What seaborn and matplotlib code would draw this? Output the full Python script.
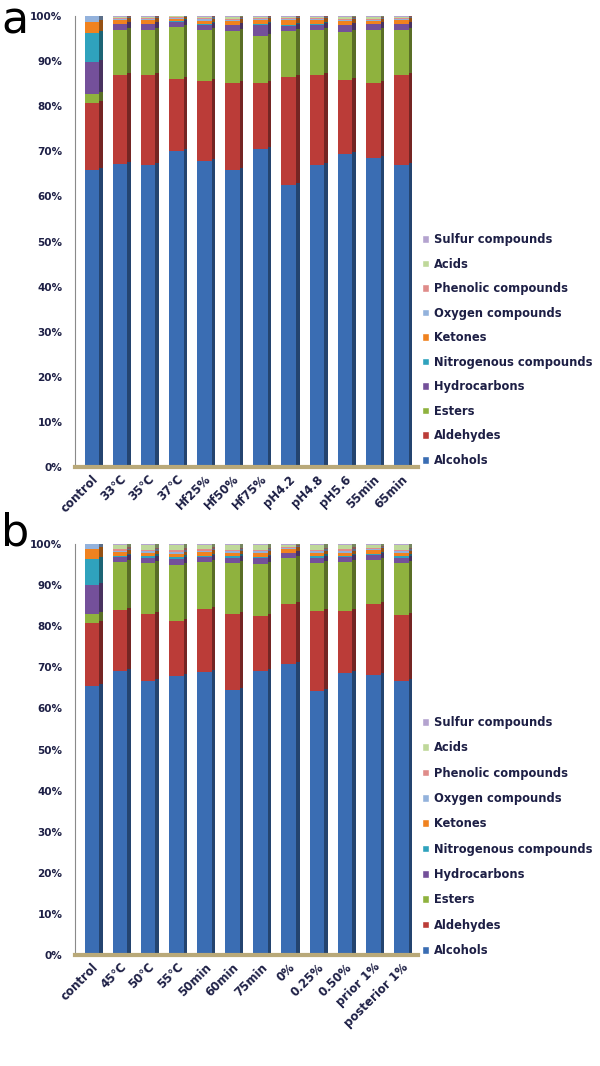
import numpy as np
import pandas as pd
import seaborn as sns
from matplotlib import pyplot as plt
from matplotlib.patches import Patch
import matplotlib.transforms as mtransforms
from matplotlib.colors import to_rgb

# categories (bottom -> top of each stack)
compounds = ['Alcohols', 'Aldehydes', 'Esters', 'Hydrocarbons', 'Nitrogenous compounds',
             'Ketones', 'Oxygen compounds', 'Phenolic compounds', 'Acids', 'Sulfur compounds']
colors = ['#3a6db3', '#bb3c38', '#8fb23e', '#74509a', '#2fa2bd',
          '#f0821f', '#93b2dc', '#df8c8a', '#bfd89a', '#b4a3cf']

# panel a
samples_a = ['control', '33℃', '35℃', '37℃', 'Hf25%', 'Hf50%', 'Hf75%',
             'pH4.2', 'pH4.8', 'pH5.6', '55min', '65min']
alcohols_a = [65.8, 67.2, 67.0, 70.0, 67.8, 65.8, 70.6, 62.5, 67.0, 69.5, 68.6, 67.0]
aldehydes_a = [14.9, 19.7, 19.9, 16.0, 17.8, 19.3, 14.5, 24.0, 19.9, 16.2, 16.5, 20.0]
esters_a = [2.1, 10.1, 10.1, 11.6, 11.2, 11.5, 10.5, 10.1, 10.1, 10.8, 11.9, 10.0]
hydrocarbons_a = [7.0, 1.2, 1.2, 1.1, 1.2, 1.3, 2.3, 1.2, 1.1, 1.4, 1.2, 1.2]
nitrogenous_a = [6.5, 0.1, 0.1, 0.2, 0.2, 0.2, 0.4, 0.1, 0.1, 0.1, 0.1, 0.1]
ketones_a = [2.4, 0.8, 0.8, 0.5, 0.8, 0.8, 0.8, 1.2, 0.9, 0.9, 0.7, 0.8]
oxygen_a = [1.3, 0.2, 0.2, 0.2, 0.3, 0.3, 0.2, 0.2, 0.2, 0.2, 0.2, 0.2]
phenolic_a = [0.0, 0.2, 0.2, 0.1, 0.2, 0.2, 0.2, 0.2, 0.2, 0.2, 0.2, 0.2]
acids_a = [0.0, 0.3, 0.3, 0.2, 0.3, 0.4, 0.3, 0.3, 0.3, 0.4, 0.4, 0.3]
sulfur_a = [0.0, 0.2, 0.2, 0.1, 0.2, 0.2, 0.2, 0.2, 0.2, 0.3, 0.2, 0.2]

# panel b
samples_b = ['control', '45℃', '50℃', '55℃', '50min', '60min', '75min',
             '0%', '0.25%', '0.50%', 'prior 1%', 'posterior 1%']
alcohols_b = [65.5, 69.1, 66.7, 67.9, 68.8, 64.5, 69.0, 70.9, 64.3, 68.6, 68.2, 66.6]
aldehydes_b = [15.3, 14.9, 16.3, 13.3, 15.5, 18.5, 13.4, 14.4, 19.5, 15.1, 17.1, 16.2]
esters_b = [2.2, 11.7, 12.3, 13.7, 11.4, 12.3, 12.8, 11.2, 11.5, 11.8, 10.8, 12.5]
hydrocarbons_b = [7.0, 1.2, 1.3, 1.5, 1.2, 1.3, 1.3, 1.2, 1.3, 1.3, 1.3, 1.3]
nitrogenous_b = [6.4, 0.3, 0.4, 0.4, 0.3, 0.4, 0.4, 0.2, 0.4, 0.4, 0.2, 0.4]
ketones_b = [2.4, 0.8, 0.8, 0.8, 0.8, 0.8, 0.8, 0.8, 0.8, 0.7, 0.9, 0.8]
oxygen_b = [1.2, 0.4, 0.5, 0.5, 0.4, 0.5, 0.5, 0.3, 0.5, 0.5, 0.3, 0.5]
phenolic_b = [0.0, 0.3, 0.3, 0.4, 0.3, 0.3, 0.3, 0.2, 0.3, 0.3, 0.2, 0.3]
acids_b = [0.0, 1.0, 1.1, 1.2, 1.0, 1.1, 1.2, 0.6, 1.1, 1.0, 0.8, 1.1]
sulfur_b = [0.0, 0.3, 0.3, 0.3, 0.3, 0.3, 0.3, 0.2, 0.3, 0.3, 0.2, 0.3]

series_a = [alcohols_a, aldehydes_a, esters_a, hydrocarbons_a, nitrogenous_a,
            ketones_a, oxygen_a, phenolic_a, acids_a, sulfur_a]
series_b = [alcohols_b, aldehydes_b, esters_b, hydrocarbons_b, nitrogenous_b,
            ketones_b, oxygen_b, phenolic_b, acids_b, sulfur_b]

sns.set_style('white')
plt.rcParams['font.family'] = ['DejaVu Sans']
text_col = '#1d1f45'

fig = plt.figure(figsize=(6, 10.66), dpi=100)
ax_a = fig.add_axes([0.125, 1 - 467/1066, 0.572, 451/1066])
ax_b = fig.add_axes([0.125, 1 - 955/1066, 0.572, 411/1066])


def shade(c, f):
    return tuple(v * f for v in to_rgb(c))


def stacked(ax, samples, series):
    df = pd.DataFrame(np.array(series).T, columns=compounds)
    df['sample'] = samples
    cum = df[compounds].cumsum(axis=1)
    # side faces (darker, nudged right/up) for a 3D-ish look, then front faces
    shift = mtransforms.ScaledTranslation(3.5/100, 2/100, fig.dpi_scale_trans)
    for side in [True, False]:
        for i in range(len(compounds) - 1, -1, -1):
            n0 = len(ax.patches)
            col = shade(colors[i], 0.62) if side else colors[i]
            sns.barplot(x=df['sample'], y=cum[compounds[i]], color=col, width=0.52,
                        saturation=1, edgecolor='none', order=samples, ax=ax)
            if side:
                for p in ax.patches[n0:]:
                    p.set_transform(ax.transData + shift)
    ax.set_ylim(0, 100)
    ax.set_xlim(-0.6, len(samples) - 0.4)
    ax.set_yticks(np.arange(0, 101, 10))
    ax.set_yticklabels([f'{v}%' for v in range(0, 101, 10)], fontsize=7.5,
                       fontweight='bold', color=text_col)
    ax.set_xticks(range(len(samples)))
    ax.set_xticklabels(samples, rotation=45, ha='right', rotation_mode='anchor',
                       fontsize=8.5, fontweight='bold', color=text_col)
    ax.set_xlabel('')
    ax.set_ylabel('')
    for s in ['top', 'right']:
        ax.spines[s].set_visible(False)
    ax.spines['left'].set_color('#8a8a8a')
    ax.spines['bottom'].set_color('#b9a979')
    ax.spines['bottom'].set_linewidth(3)
    ax.tick_params(axis='y', direction='out', length=4, color='#8a8a8a', pad=5)
    ax.tick_params(axis='x', length=0, pad=4)


stacked(ax_a, samples_a, series_a)
stacked(ax_b, samples_b, series_b)

handles = [Patch(facecolor=c, label=n) for c, n in zip(colors, compounds)][::-1]
for y0, ls in [(233, 1.0), (716, 1.07)]:
    fig.legend(handles=handles, loc='upper left', bbox_to_anchor=(0.703, 1 - y0/1066),
               frameon=False, prop={'size': 8.3, 'weight': 'bold'}, labelcolor=text_col,
               handlelength=0.65, handleheight=0.65, handletextpad=0.4, labelspacing=ls,
               borderaxespad=0, borderpad=0)

fig.text(0.002, 1 - 33/1066, 'a', fontsize=32, color='black')
fig.text(0.002, 1 - 545/1066, 'b', fontsize=32, color='black')

fig.savefig('out.png', dpi=100)
